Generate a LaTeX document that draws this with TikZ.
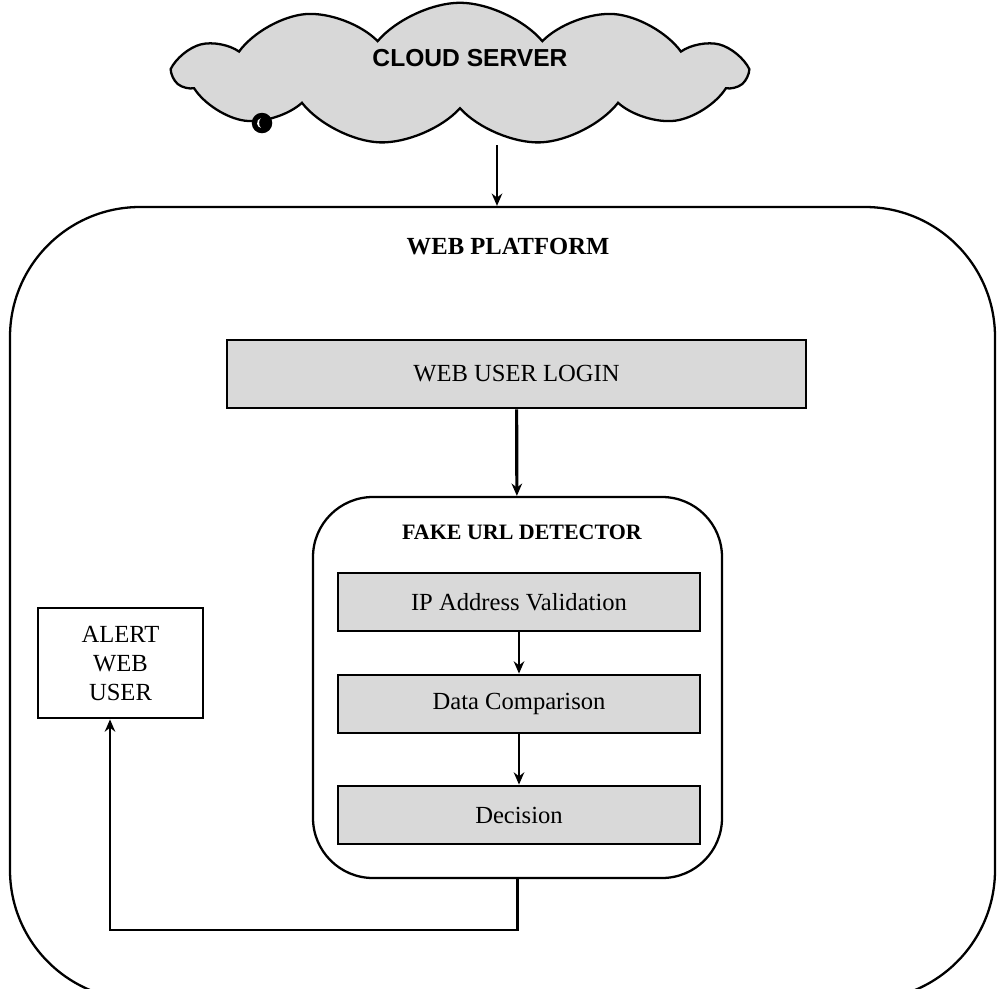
\documentclass[tikz,border=0pt]{standalone}
\usepackage{fontspec}
\setmainfont{Liberation Serif}
\setsansfont{Liberation Sans}
\usetikzlibrary{shapes.symbols,arrows.meta}
\definecolor{boxgray}{RGB}{217,217,217}
\definecolor{cloudgray}{RGB}{216,216,216}
\begin{document}
\begin{tikzpicture}[
    procbox/.style={draw, line width=1.6pt, fill=boxgray, minimum width=7.24cm, minimum height=1.16cm,
      font=\fontsize{14}{17}\selectfont},
    frame/.style={draw, line width=1.3pt},
    flow/.style={-{Stealth[length=7pt,width=6pt]}, line width=1.2pt}
  ]
  \useasboundingbox (0,0) rectangle (19.94,-19.76);
  \clip (0,0) rectangle (19.94,-19.76);

  % cloud
  \node[cloud, cloud puffs=11, cloud puff arc=100, cloud ignores aspect, frame, fill=cloudgray,
    minimum width=11.4cm, minimum height=2.85cm] (cloud) at (9.2,-1.48) {};
  \node[font=\sffamily\bfseries\fontsize{14}{17}\selectfont] (cloudtxt) at (9.4,-1.16) {CLOUD SERVER};
  \draw[line width=1.4pt, fill=black] (5.24,-2.46) circle (0.18);
  \fill[white] (5.24,-2.46) ++(100:0.1) arc (100:260:0.1) arc (260:100:0.05 and 0.1);

  % web platform
  \node[frame, rounded corners=2.6cm, minimum width=19.7cm, minimum height=15.86cm] (platform) at (10.05,-12.07) {};
  \node[font=\bfseries\fontsize{14}{17}\selectfont] (platformtxt) at (10.16,-4.94) {WEB PLATFORM};
  \coordinate (cloudbot) at (9.94,-2.9);
  \draw[flow] (cloudbot) -- (cloudbot |- platform.north);

  % login and detector
  \node[procbox, minimum width=11.58cm, minimum height=1.36cm] (login) at (10.33,-7.48) {WEB USER LOGIN};
  \node[frame, rounded corners=1.2cm, minimum width=8.18cm, minimum height=7.62cm] (detector) at (10.35,-13.75) {};
  \node[font=\bfseries\fontsize{12.5}{15}\selectfont] (detectortxt) at (10.44,-10.64) {FAKE URL DETECTOR};
  \node[procbox] (ipcheck) at (10.38,-12.04) {IP Address Validation};
  \node[procbox] (compare) at (10.38,-14.08) {Data Comparison};
  \node[procbox] (decision) at (10.38,-16.3) {Decision};

  % alert
  \node[draw, line width=1.6pt, minimum width=3.3cm, minimum height=2.2cm, align=center,
    font=\fontsize{14}{16.5}\selectfont] (alert) at (2.41,-13.26) {ALERT\\WEB\\USER};

  \draw[flow, line width=1.8pt] (login) -- (detector);
  \draw[flow] (ipcheck) -- (compare);
  \draw[flow] (compare) -- (decision);
  \coordinate (corner) at (2.2,-18.6);
  \draw[flow] (detector.south) |- (corner) -- (corner |- alert.south);
\end{tikzpicture}
\end{document}
